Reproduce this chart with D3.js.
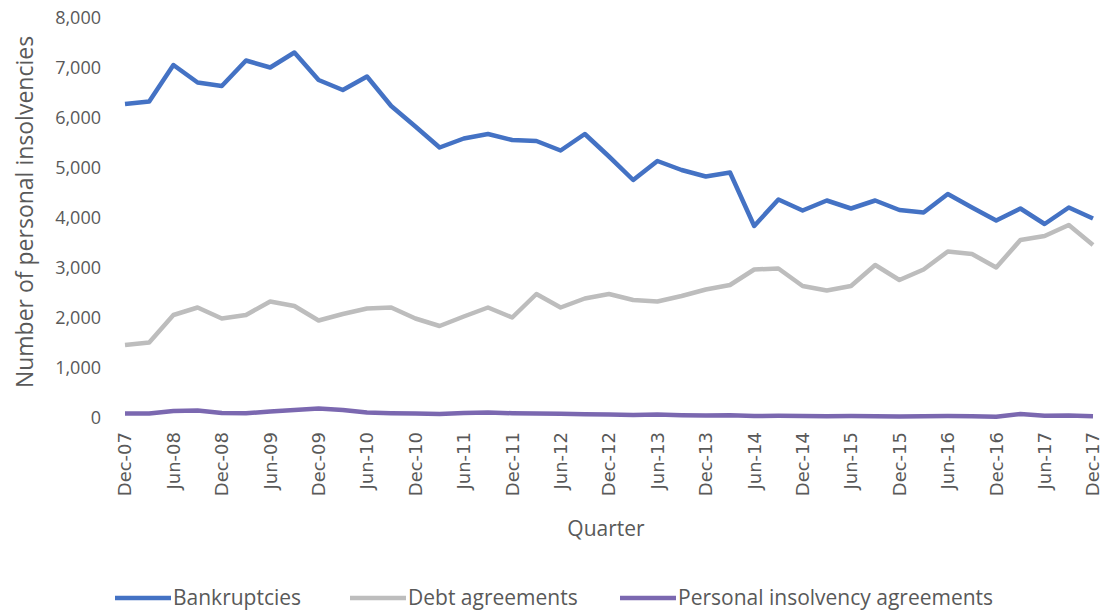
<!DOCTYPE html>
<html>

<head>
  <meta charset='utf-8'>
  <style>
    body { margin: 0; background: #fff; }
    text { fill: #595959; }
  </style>
  <script src='https://cdn.jsdelivr.net/npm/d3@7'></script>
</head>

<body>

  <script>
    // quarters, Dec-07 .. Dec-17
    let quarters = ["Dec-07", "Mar-08", "Jun-08", "Sep-08", "Dec-08", "Mar-09", "Jun-09", "Sep-09",
      "Dec-09", "Mar-10", "Jun-10", "Sep-10", "Dec-10", "Mar-11", "Jun-11", "Sep-11",
      "Dec-11", "Mar-12", "Jun-12", "Sep-12", "Dec-12", "Mar-13", "Jun-13", "Sep-13",
      "Dec-13", "Mar-14", "Jun-14", "Sep-14", "Dec-14", "Mar-15", "Jun-15", "Sep-15",
      "Dec-15", "Mar-16", "Jun-16", "Sep-16", "Dec-16", "Mar-17", "Jun-17", "Sep-17", "Dec-17"]

    let bankruptcies = [6280, 6330, 7060, 6710, 6640, 7150, 7010, 7310, 6760, 6560, 6830,
      6240, 5830, 5410, 5590, 5680, 5560, 5540, 5350, 5680, 5230, 4760, 5140, 4960,
      4830, 4910, 3840, 4370, 4150, 4350, 4190, 4350, 4160, 4110, 4480, 4210, 3950,
      4190, 3880, 4210, 3990]

    let debtAgreements = [1460, 1510, 2060, 2210, 1990, 2060, 2330, 2240, 1950, 2080, 2190,
      2210, 1990, 1840, 2030, 2210, 2010, 2480, 2210, 2390, 2480, 2360, 2330, 2440,
      2570, 2660, 2970, 2990, 2640, 2550, 2640, 3060, 2760, 2970, 3330, 3280, 3010,
      3560, 3640, 3860, 3460]

    let pias = [90, 90, 140, 150, 100, 95, 130, 160, 190, 160, 110, 95, 90, 80, 100, 110,
      95, 90, 85, 75, 70, 60, 70, 55, 50, 55, 40, 45, 40, 35, 40, 35, 30, 35, 40, 35,
      25, 80, 45, 50, 35]

    let seriesNames = ["Bankruptcies", "Debt agreements", "Personal insolvency agreements"]
    let seriesColors = ["#4472C4", "#BDBDBD", "#7B68B0"]
    let yTicks = [0, 1000, 2000, 3000, 4000, 5000, 6000, 7000, 8000]

    let [width, height] = [1105, 610]
    let svg = d3.select("body").append("svg")
      .attr("width", width)
      .attr("height", height)
      .style("font-family", "'Open Sans', sans-serif")

    let x = d3.scalePoint(quarters, [125, 1093])
    let y = d3.scaleLinear([0, 8000], [418, 18])

    // y axis labels
    svg.append("g")
      .attr("transform", "translate(101,0)")
      .call(d3.axisLeft(y).tickValues(yTicks).tickFormat(d3.format(",")).tickSize(0).tickPadding(0))
      .call(g => g.select(".domain").remove())
      .call(g => g.selectAll("text").attr("fill", "#595959").style("font-size", "18px").attr("font-family", "'Open Sans', sans-serif"))

    // x axis labels, every second quarter
    svg.append("g").selectAll("text")
      .data(quarters.filter((d, i) => i % 2 == 0))
      .join("text")
      .attr("transform", d => `translate(${x(d)},432) rotate(-90)`)
      .attr("text-anchor", "end")
      .attr("dy", "0.35em")
      .style("font-size", "18px")
      .attr("font-family", "'DejaVu Sans', sans-serif")
      .text(d => d)

    svg.append("text")
      .attr("transform", "translate(25,212) rotate(-90)")
      .attr("text-anchor", "middle")
      .attr("dy", "0.35em")
      .style("font-size", "23px")
      .text("Number of personal insolvencies")

    svg.append("text")
      .attr("x", 606)
      .attr("y", 536)
      .attr("text-anchor", "middle")
      .style("font-size", "21px")
      .text("Quarter")

    let line = d3.line()
      .x((d, i) => x(quarters[i]))
      .y(d => y(d))

    let allSeries = [bankruptcies, debtAgreements, pias]
    // draw back to front so bankruptcies sits on top
    svg.append("g").selectAll("path")
      .data(allSeries.map((s, i) => ({ s, i })).reverse())
      .join("path")
      .attr("fill", "none")
      .attr("stroke", d => seriesColors[d.i])
      .attr("stroke-width", 4.5)
      .attr("stroke-linejoin", "round")
      .attr("d", d => line(d.s))

    // legend
    let legendX = [115, 350, 620]
    let legend = svg.append("g").selectAll("g")
      .data(seriesNames)
      .join("g")
      .attr("transform", (d, i) => `translate(${legendX[i]},598)`)
    legend.append("line")
      .attr("x1", 0).attr("x2", 56)
      .attr("stroke", (d, i) => seriesColors[i])
      .attr("stroke-width", 4.5)
    legend.append("text")
      .attr("x", 58)
      .attr("dy", "0.35em")
      .style("font-size", "21px")
      .text(d => d)
  </script>
</body>

</html>
